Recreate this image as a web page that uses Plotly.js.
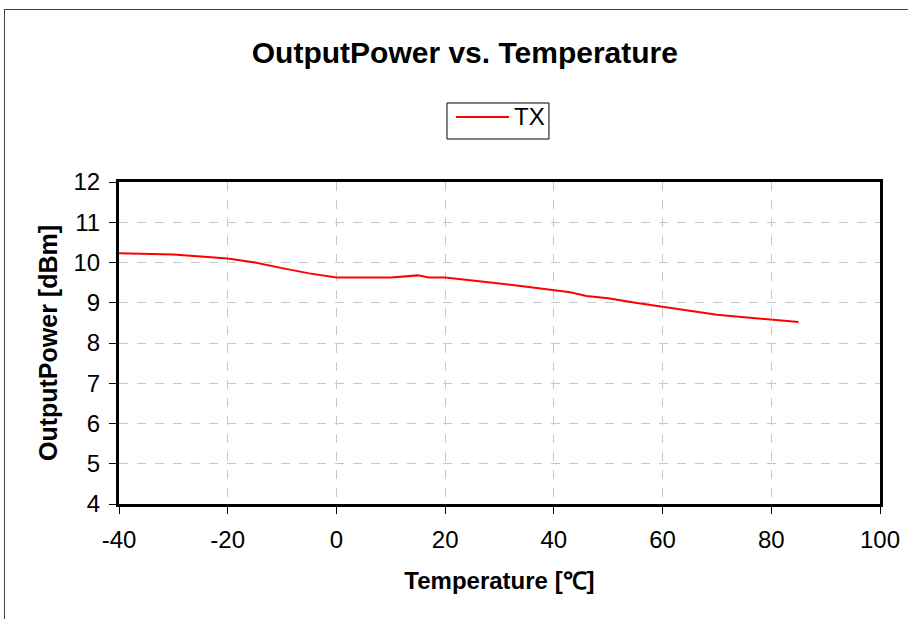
<!DOCTYPE html>
<html><head><meta charset="utf-8">
<script src="https://cdn.plot.ly/plotly-3.0.1.min.js"></script>
<style>
html,body{margin:0;padding:0;overflow:hidden;background:#fff;}
#wrap{position:relative;width:908px;height:619px;}
#chart{width:908px;height:619px;}
#frame{position:absolute;left:4px;top:9px;width:1000px;height:1000px;border:1px solid #444;pointer-events:none;}
</style></head>
<body>
<div id="wrap"><div id="chart"></div><div id="frame"></div></div>
<script>
const temperature = [-40,-30,-20,-15,-10,-5,0,5,10,15,17,20,25,30,35,40,43,46,50,55,60,65,70,75,80,85];
const txPower = [10.23,10.20,10.10,10.00,9.86,9.73,9.63,9.63,9.63,9.68,9.63,9.63,9.56,9.48,9.40,9.32,9.26,9.17,9.11,9.00,8.90,8.80,8.70,8.64,8.58,8.52];
const seriesName = 'TX';
const xTicks = [-40,-20,0,20,40,60,80,100];
const yTicks = [4,5,6,7,8,9,10,11,12];

const lineColor = '#ff0000';
const sans = 'Liberation Sans, Arial, sans-serif';

const trace = {
  x: temperature, y: txPower, name: seriesName, type: 'scatter', mode: 'lines',
  line: {color: lineColor, width: 2}, showlegend: false
};
const axisCommon = {
  showline: true, mirror: true, linecolor: '#000', linewidth: 3,
  ticks: 'outside', ticklen: 7, tickwidth: 1, tickcolor: '#000',
  showgrid: true, gridcolor: '#c8c8c8', griddash: 'dash', gridwidth: 1,
  zeroline: false,
  tickfont: {family: sans, size: 24, color: '#000'}
};
const layout = {
  width: 908, height: 619,
  margin: {l: 119, r: 28, t: 182, b: 115},
  paper_bgcolor: '#fff', plot_bgcolor: '#fff',
  title: {text: '<b>OutputPower vs. Temperature</b>', x: 0.512, xanchor: 'center', y: 0.915, yanchor: 'middle',
          font: {family: sans, size: 30, color: '#000'}},
  showlegend: false,
  shapes: [
    {type: 'rect', xref: 'paper', yref: 'paper', x0: 0.431, x1: 0.565, y0: 1.1335, y1: 1.2453,
     line: {color: '#000', width: 1}, fillcolor: '#fff'},
    {type: 'line', xref: 'paper', yref: 'paper', x0: 0.4428, x1: 0.5125, y0: 1.2019, y1: 1.2019,
     line: {color: lineColor, width: 2}}
  ],
  annotations: [
    {text: seriesName, xref: 'paper', yref: 'paper', x: 0.5165, y: 1.2019, xanchor: 'left', yanchor: 'middle',
     showarrow: false, font: {family: sans, size: 24, color: '#000'}}
  ],
  xaxis: Object.assign({}, axisCommon, {
    range: [-40, 100], tickvals: xTicks, ticktext: xTicks.map(String), ticklabelstandoff: 5,
    title: {text: '<b>Temperature [℃]</b>', standoff: 21,
            font: {family: sans, size: 24, color: '#000'}}
  }),
  yaxis: Object.assign({}, axisCommon, {
    range: [4, 12], tickvals: yTicks, ticktext: yTicks.map(String), ticklabelstandoff: 4,
    title: {text: '<b>OutputPower [dBm]</b>', standoff: 9,
            font: {family: sans, size: 25, color: '#000'}}
  })
};
Plotly.newPlot('chart', [trace], layout, {displayModeBar: false, staticPlot: true});
</script>
</body></html>
